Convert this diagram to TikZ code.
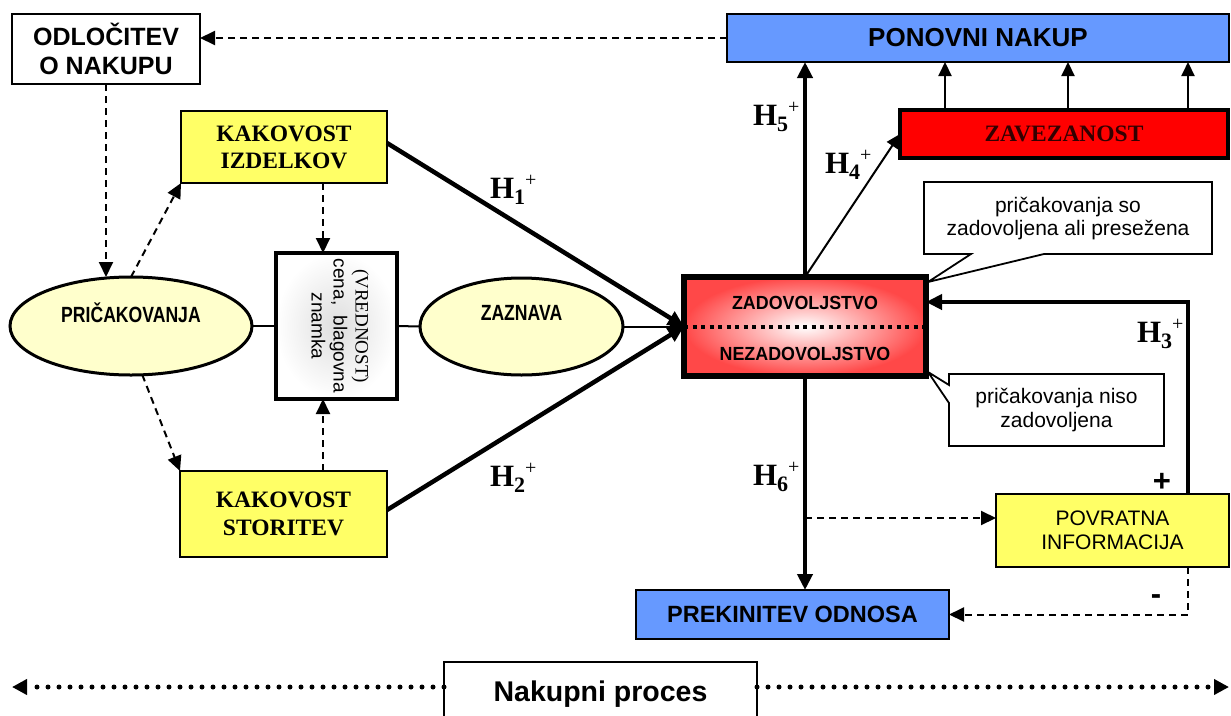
\documentclass[tikz,border=0pt]{standalone}
\usepackage{fontspec}
\setmainfont{Liberation Serif}
\setsansfont{Liberation Sans}
\usetikzlibrary{arrows.meta,shapes.geometric}

\definecolor{boxyellow}{HTML}{FFFF66}
\definecolor{elyellow}{HTML}{FFFFCC}
\definecolor{boxblue}{HTML}{6699FF}
\definecolor{boxred}{HTML}{FF0000}
\definecolor{zadred}{HTML}{FF4848}
\definecolor{zavtext}{HTML}{330000}

\newcommand\myfs[2]{\fontsize{#1}{#2}\selectfont}
\newcommand\hlab[1]{\textbf{H}\raisebox{-6pt}{\myfs{22}{22}\textbf{#1}}\raisebox{12pt}{\myfs{20}{20}+}}

\begin{document}
\begin{tikzpicture}[x=1pt,y=-1pt,
  every node/.style={inner sep=0pt, outer sep=0pt},
  bx/.style={draw=black, line width=2.6pt, rectangle, align=center},
  dasharr/.style={line width=2pt, dash pattern=on 7pt off 5pt, -{Triangle[length=15pt,width=14pt]}},
  thickarr/.style={line width=4.5pt, -{Triangle[length=16pt,width=15pt]}},
  thinarr/.style={line width=2pt, -{Triangle[length=14pt,width=13pt]}},
  plainln/.style={line width=2pt},
  dotarr/.style={line width=5pt, line cap=round, dash pattern=on 0pt off 11pt, -{Triangle[length=15pt,width=15pt]}},
  callout/.style={line width=1.8pt, draw=black, fill=white},
  hlabel/.style={anchor=base west, font=\myfs{31}{34}},
  sfb/.style={font=\sffamily\bfseries\myfs{#1}{#1}},
]
\useasboundingbox[fill=white] (0,0) rectangle (1231,715);

% --- boxes and ellipses ---
\node[bx, fill=white, minimum width=188, minimum height=70,
      font=\sffamily\bfseries\myfs{25}{29}] (odl) at (106,49) {ODLOČITEV\\O NAKUPU};
\node[bx, line width=2.2pt, fill=boxblue, minimum width=502, minimum height=48,
      font=\sffamily\bfseries\myfs{26}{30}] (pon) at (978,38) {PONOVNI NAKUP};
\node[bx, line width=4.5pt, fill=boxred, minimum width=328, minimum height=48,
      text=zavtext, font=\bfseries\myfs{23.5}{28}] (zav) at (1064,134) {ZAVEZANOST};
\node[bx, fill=boxyellow, minimum width=206, minimum height=72,
      font=\bfseries\myfs{23.5}{27}] (izd) at (284,147) {KAKOVOST\\IZDELKOV};
\node[bx, fill=boxyellow, minimum width=207, minimum height=86,
      font=\bfseries\myfs{23.5}{28}] (sto) at (283.5,514) {KAKOVOST\\STORITEV};

\node[draw=black, ellipse, line width=3pt, fill=elyellow,
      minimum width=242, minimum height=98] (pri) at (131,326) {};
\node[sfb=22] (prit) at (131,313) {\scalebox{0.8}[1]{PRIČAKOVANJA}};

\node[bx, line width=3.2pt, inner color=black!13, outer color=white,
      minimum width=121, minimum height=146] (vre) at (336.5,326) {};
\node[rotate=-90, align=center, font=\myfs{19}{22}] (vret) at (340,326)
  {(VREDNOST)\\{\sffamily cena,\ \ blagovna}\\{\sffamily znamka}};

\node[draw=black, ellipse, line width=3pt, fill=elyellow,
      minimum width=203, minimum height=97] (zaz) at (521.5,326.5) {};
\node[sfb=22] (zazt) at (521.5,313) {\scalebox{0.8}[1]{ZAZNAVA}};

\node[draw=black, line width=5.5pt, inner color=white, outer color=zadred,
      minimum width=242, minimum height=99] (zad) at (805,326.5) {};
\draw[line width=4pt, dash pattern=on 4pt off 4.5pt] (zad.west) -- (zad.east);
\node[sfb=19] (zadt1) at (805,303) {\scalebox{0.94}[1]{ZADOVOLJSTVO}};
\node[sfb=19] (zadt2) at (805,354) {\scalebox{0.94}[1]{NEZADOVOLJSTVO}};

% callouts
\draw[callout] (924,182) -- (1212,182) -- (1212,254) -- (1044,254) -- (928,282) -- (971,254) -- (924,254) -- cycle;
\node[align=center, font=\sffamily\myfs{21}{23}] (c1) at (1068,219) {pričakovanja so\\zadovoljena ali presežena};
\draw[callout] (949,374) -- (1164,374) -- (1164,446) -- (949,446) -- (949,403) -- (928,372) -- (949,385) -- cycle;
\node[align=center, font=\sffamily\myfs{21}{24}] (c2) at (1056.5,410) {pričakovanja niso\\zadovoljena};

\node[bx, line width=2.2pt, fill=boxyellow, minimum width=233, minimum height=73,
      font=\sffamily\myfs{21}{24}] (pov) at (1112.5,530.5) {POVRATNA\\INFORMACIJA};
\node[bx, line width=2.2pt, fill=boxblue, minimum width=313, minimum height=49,
      font=\sffamily\bfseries\myfs{23.5}{28}] (pre) at (792.5,614.5) {PREKINITEV ODNOSA};
\node[bx, line width=2.2pt, fill=white, minimum width=313, minimum height=64,
      font=\sffamily\bfseries\myfs{28.5}{32}] (nak) at (600.5,694) {Nakupni proces};

% --- labels ---
\node[hlabel] (h1) at (490,198) {\hlab{1}};
\node[hlabel] (h2) at (490,486) {\hlab{2}};
\node[hlabel] (h3) at (1137,342) {\hlab{3}};
\node[hlabel] (h4) at (825,173) {\hlab{4}};
\node[hlabel] (h5) at (753,125) {\hlab{5}};
\node[hlabel] (h6) at (753,485) {\hlab{6}};
\node[sfb=31] (plus) at (1162,482) {+};
\node[sfb=31] (minus) at (1156,600) {-};

% --- connectors ---
\coordinate (vt) at (323,0);
\coordinate (a1) at (945,0);
\coordinate (a2) at (1068,0);
\coordinate (a3) at (1188,0);
\coordinate (fb) at (805,518);
\coordinate (l3) at (1188,302);
\coordinate (dl) at (12,687);
\coordinate (dr) at (1229,687);

\draw[dasharr] (pon.west) -- (pon.west -| odl.east);
\draw[dasharr] (odl.south) -- (odl.south |- pri.north);
\draw[dasharr] (pri.north) -- (izd.south west);
\draw[dasharr] (pri.-77) -- (sto.north west);
\draw[dasharr] (izd.south -| vt) -- (vre.north -| vt);
\draw[dasharr] (sto.north -| vt) -- (vre.south -| vt);
\draw[plainln] (pri.east) -- (vre.west);
\draw[plainln] (vre.east) -- (zaz.west);
\draw[thinarr] (zaz.east) -- (zad.west);
\draw[thickarr] ([yshift=4pt]izd.east) -- (zad.west);
\draw[thickarr] ([yshift=4pt]sto.east) -- (zad.west);

\draw[thickarr] (zad.north) -- (zad.north |- pon.south);
\draw[thinarr] (zad.north) -- (zav.west);
\draw[thinarr] (zav.north -| a1) -- (pon.south -| a1);
\draw[thinarr] (zav.north -| a2) -- (pon.south -| a2);
\draw[thinarr] (zav.north -| a3) -- (pon.south -| a3);

\draw[thickarr] (zad.south) -- (zad.south |- pre.north);
\draw[dasharr] (fb) -- (fb -| pov.west);
\draw[thickarr] (pov.north -| l3) -- (l3) -- (l3 -| zad.east);
\draw[dasharr] (pov.south -| l3) -- (pre.east -| l3) -- (pre.east);

\draw[dotarr] (nak.west |- dl) -- (dl);
\draw[dotarr] (nak.east |- dr) -- (dr);
\end{tikzpicture}
\end{document}
